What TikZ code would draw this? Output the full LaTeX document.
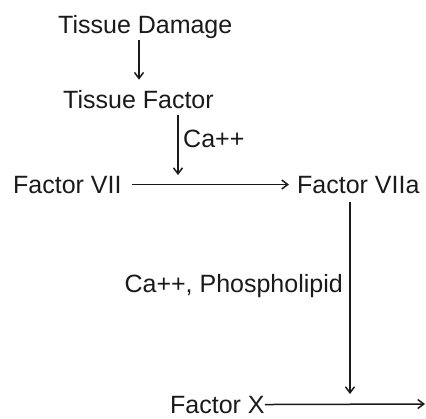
\documentclass[tikz,border=0pt]{standalone}
\usepackage{fontspec}
\setmainfont{Liberation Sans}
\usepackage{tikz}
\usetikzlibrary{arrows.meta}
\definecolor{ink}{HTML}{1A1A1A}

\begin{document}
\begin{tikzpicture}[x=1pt,y=-1pt,font=\fontsize{25}{29}\selectfont,
  lbl/.style={inner sep=0pt,anchor=base west,text=ink},
  arr/.style={draw=ink,line width=1.5pt,-{Straight Barb[length=6pt,width=9pt]}}]
\useasboundingbox (0,0) rectangle (426,418);
\node[lbl] (td) at (58,33) {Tissue Damage};
\node[lbl] (tf) at (63,108) {Tissue Factor};
\node[lbl] (ca) at (183,147) {Ca++};
\node[lbl] (f7) at (13,193) {Factor VII};
\node[lbl] (f7a) at (297,193) {Factor VIIa};
\node[lbl,anchor=base east] (cap) at (343,292) {Ca++, Phospholipid};
\node[lbl] (fx) at (170,413) {Factor X};
\coordinate (j) at (178,175);
\coordinate (xend) at (350,394);
\coordinate (out) at (425,404);
\draw[arr,shorten <=2pt,shorten >=10pt] (td.south -| 139,0) -- (tf.north -| 139,0);
\draw[arr,shorten <=7pt] (tf.south -| j) -- (j);
\draw[arr,shorten <=10pt,shorten >=8pt] (f7.east) -- (f7a.west);
\draw[arr,shorten <=9pt] (f7a.south -| xend) -- (xend);
\draw[arr] (fx.east) -- (out);
\end{tikzpicture}
\end{document}
